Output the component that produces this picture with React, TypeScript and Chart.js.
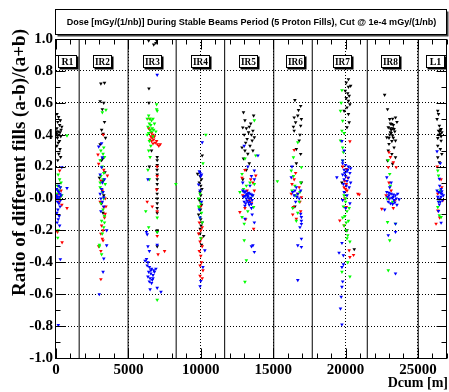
import React, { useEffect, useRef } from "react";
import { Chart, registerables } from "chart.js";
Chart.register(...registerables);

const X_MIN = 0;
const X_MAX = 27000;
const Y_MIN = -1;
const Y_MAX = 1;
const xTickValues = [0, 5000, 10000, 15000, 20000, 25000];
const yTickValues = [-1, -0.8, -0.6, -0.4, -0.2, 0, 0.2, 0.4, 0.6, 0.8, 1];

const titleText = "Dose [mGy/(1/nb)] During Stable Beams Period (5 Proton Fills), Cut @ 1e-4 mGy/(1/nb)";
const xTitle = "Dcum [m]";
const yTitle = "Ratio of different fills (a-b)/(a+b)";

const regionBounds = [1600, 4980, 8300, 11650, 15040, 17700, 21500, 25020];
const regionNames = ["R1", "IR2", "IR3", "IR4", "IR5", "IR6", "IR7", "IR8", "L1"];
const regionLabelX = [790, 3210, 6620, 9930, 13240, 16490, 19730, 23070, 26170];
const REGION_LABEL_Y = 0.86;

type P = [number, number];

const blackPts: P[] = [
  // R1
  [70, 0.53], [180, 0.51], [300, 0.49], [120, 0.48], [250, 0.46], [60, 0.44], [350, 0.43], [20, 0.42], [160, 0.42], [280, 0.415],
  [40, 0.405], [200, 0.4], [330, 0.39], [100, 0.38], [240, 0.36], [150, 0.35], [60, 0.33], [280, 0.31], [190, 0.28], [320, 0.26],
  [120, 0.24], [400, 0.45], [10, 0.41], [90, 0.395],
  // IR2
  [3100, 0.72], [3350, 0.725], [3050, 0.61], [3300, 0.6], [3200, 0.56], [3350, 0.48], [3150, 0.43], [3250, 0.405], [3420, 0.38],
  [3050, 0.34], [3220, 0.25], [3150, 0.24], [3380, 0.165], [3000, 0.13], [3250, 0.11], [3150, 0.06], [3300, 0.02], [3150, -0.03], [3250, -0.09],
  // IR3
  [6400, 0.99], [6900, 0.975], [6950, 0.99], [6750, 0.965], [6420, 0.69], [6420, 0.6], [6990, 0.26], [6990, 0.24], [6990, 0.21],
  [6980, 0.18], [6990, 0.15], [6990, 0.12], [6990, 0.09], [6990, 0.06], [6985, 0.03], [6990, 0.0], [6990, -0.03], [6990, -0.06],
  [6990, -0.09], [6600, 0.3], [6450, 0.2], [6990, -0.2], [6990, -0.3], [6990, -0.21],
  // IR4
  [10100, 0.27], [9780, 0.155], [9950, 0.14], [10050, 0.12], [9900, 0.1], [10000, 0.08], [10080, 0.06], [9950, 0.04], [10000, 0.02],
  [9900, -0.01], [10050, -0.04], [9980, -0.07], [9850, -0.1], [10000, -0.13], [10100, -0.15], [9950, -0.22], [10050, -0.29], [10020, -0.17],
  [9960, -0.19], [10200, -0.235],
  // IR5
  [12950, 0.54], [13650, 0.52], [13050, 0.49], [13450, 0.47], [12900, 0.445], [13600, 0.425], [13300, 0.415], [13000, 0.4], [13200, 0.373],
  [13550, 0.363], [13400, 0.33], [12850, 0.32], [13050, 0.3], [13700, 0.383], [13150, 0.44], [13350, 0.45], [13500, 0.4], [13100, 0.35],
  [13600, 0.3], [13250, 0.28], [12950, 0.25], [13350, 0.22], [13150, 0.18], [12900, 0.12],
  // IR6
  [16500, 0.617], [16900, 0.58], [16750, 0.554], [16450, 0.508], [16950, 0.498], [16550, 0.477], [16900, 0.456], [16450, 0.425],
  [16800, 0.363], [16600, 0.31], [16900, 0.279], [16400, 0.45], [16700, 0.52], [16850, 0.4], [16600, 0.22], [16950, 0.1], [16500, -0.05],
  // IR7
  [20200, 0.748], [20050, 0.727], [20200, 0.7], [20350, 0.706], [19980, 0.675], [20250, 0.644], [20050, 0.629], [20200, 0.6125],
  [20100, 0.571], [20200, 0.529], [20250, 0.477], [20100, 0.446], [19900, 0.55], [20300, 0.59], [20150, 0.66], [20600, -0.318],
  [19750, 0.1], [20100, -0.2],
  // IR8
  [22900, 0.56], [23050, 0.498], [23450, 0.508], [23200, 0.467], [22950, 0.446], [23350, 0.435], [23100, 0.415], [23250, 0.394],
  [22850, 0.383], [23450, 0.363], [23000, 0.342], [23350, 0.32], [23200, 0.279], [23450, 0.258], [22900, 0.2375], [23250, 0.217],
  [23100, 0.47], [23300, 0.46], [23150, 0.43], [23050, 0.4], [23400, 0.42], [23200, 0.36], [22950, 0.3], [23300, 0.38], [23100, 0.44],
  [23000, 0.38], [23250, 0.5], [22700, 0.65], [23550, 0.48], [23150, 0.41], [23250, 0.44],
  // L1
  [26370, 0.55], [26420, 0.529], [26320, 0.498], [26480, 0.456], [26600, 0.435], [26420, 0.425], [26650, 0.415], [26550, 0.404],
  [26370, 0.379], [26600, 0.3625], [26370, 0.331], [26550, 0.31], [26650, 0.279], [26370, 0.258], [26480, 0.227], [26500, 0.42],
  [26550, 0.43], [26450, 0.4], [26600, 0.39],
];

const redPts: P[] = [
  // R1
  [250, 0.175], [150, 0.03], [300, 0.01], [200, -0.02], [400, -0.04], [760, -0.06], [100, -0.21], [420, -0.275], [350, 0.05], [60, 0.0],
  // IR2
  [2950, 0.217], [3550, 0.144], [3100, 0.113], [3300, -0.054], [3400, -0.096], [3100, -0.221], [3200, -0.252], [2950, -0.3],
  [3100, -0.329], [3250, -0.263], [3100, -0.506], [3200, 0.05], [3400, 0.0], [3050, -0.02], [3350, -0.12], [3150, -0.17], [3300, 0.18],
  [3450, -0.05], [3250, -0.2], [3265, 0.4], [2900, 0.275],
  // IR3
  [6500, 0.43], [6600, 0.41], [6700, 0.4], [6550, 0.39], [6650, 0.38], [6750, 0.37], [6600, 0.36], [6850, 0.35], [7000, 0.34],
  [7100, 0.33], [6700, 0.345], [6500, 0.37], [6800, 0.39], [6950, 0.36], [6400, 0.44], [7200, 0.34], [6990, 0.14], [6950, 0.056],
  [6650, -0.05], [6990, -0.235], [7050, -0.35], [7500, -0.33], [6300, -0.02], [6990, -0.08], [6990, 0.2], [6450, 0.5],
  // IR4
  [9900, -0.15], [10100, -0.18], [10000, -0.2], [9850, -0.22], [10050, -0.25], [9950, -0.27], [10100, -0.3], [9900, -0.33],
  [10000, -0.36], [10050, -0.4], [9950, -0.42], [10150, -0.45], [9950, -0.485], [10100, -0.5], [10000, -0.05],
  // IR5
  [13050, 0.179], [13800, 0.144], [12700, -0.085], [13650, -0.19], [13050, -0.06], [13350, -0.0125], [13600, 0.1], [13200, 0.05],
  [12900, 0.02], [13500, -0.03], [13100, -0.13], [13700, 0.05], [13450, 0.12], [12850, 0.13],
  // IR6
  [16450, 0.304], [16300, 0.09], [16800, 0.071], [16950, 0.008], [16400, -0.054], [16600, -0.127], [16350, -0.1], [16850, -0.02],
  [16700, 0.03], [16450, 0.12], [16900, -0.08], [16550, 0.16], [16250, 0.03],
  // IR7
  [20300, 0.358], [20050, 0.185], [19950, 0.11], [20050, 0.09], [19900, 0.07], [20000, 0.06], [20100, 0.05], [20850, 0.029],
  [20950, 0.025], [20050, -0.054], [19600, -0.1375], [19900, -0.169], [20250, -0.325], [20300, -0.367], [20550, -0.354], [19800, 0.2],
  [20150, 0.13], [19950, 0.0],
  // IR8
  [23000, 0.29], [23300, 0.227], [22950, 0.196], [23500, 0.196], [23000, 0.1], [22500, -0.065], [23400, -0.0125], [23150, 0.05],
  [22800, 0.02], [23300, -0.06], [23100, 0.26], [22950, 0.0],
  // L1
  [26330, 0.2], [26650, 0.071], [26370, 0.03], [26720, -0.0125], [26370, -0.075], [26250, -0.158], [26500, -0.12], [26600, 0.12],
];

const greenPts: P[] = [
  // R1
  [760, 0.394], [150, 0.15], [250, 0.12], [350, 0.1], [100, 0.08], [300, 0.07], [200, 0.05], [400, 0.02], [150, -0.2], [120, -0.246],
  [250, 0.0], [60, 0.03],
  // IR2
  [3450, 0.556], [3200, 0.54], [3300, 0.32], [3100, 0.3], [3250, 0.28], [3350, 0.26], [3050, 0.24], [3200, 0.2], [3300, 0.16],
  [3100, 0.14], [3250, 0.12], [3400, 0.09], [3050, 0.07], [3200, 0.04], [3300, 0.0], [3100, -0.03], [3250, -0.07], [3350, -0.11],
  [3150, -0.14], [3300, -0.18], [3000, -0.3], [3150, -0.35], [3050, 0.1], [3200, -0.22], [3350, -0.15], [3000, -0.29],
  // IR3
  [6950, 0.59], [6950, 0.56], [6400, 0.52], [6500, 0.5], [6600, 0.49], [6700, 0.5], [6450, 0.47], [6550, 0.46], [6800, 0.47],
  [6350, 0.45], [6650, 0.44], [6500, 0.43], [6750, 0.43], [6400, 0.41], [6900, 0.42], [6600, 0.42], [6300, 0.4], [6700, 0.39],
  [6450, 0.36], [6550, 0.33], [6400, 0.3], [6500, 0.26], [6350, 0.18], [6450, 0.12], [6200, -0.08], [6990, -0.12], [6400, -0.18],
  [6990, -0.21], [6990, -0.635], [6990, 0.55], [6300, 0.5], [8280, 0.09],
  // IR4
  [10350, 0.4], [10150, 0.22], [9950, 0.03], [9850, 0.0], [10000, -0.03], [9900, -0.06], [10050, -0.09], [9950, -0.12], [10100, -0.15],
  [9850, -0.05], [10000, -0.25],
  // IR5
  [13700, 0.49], [13800, 0.27], [13050, 0.25], [12850, 0.154], [13150, 0.08], [13650, -0.054], [12850, -0.117], [13000, -0.158],
  [13000, -0.262], [13150, -0.388], [13050, -0.523], [12700, 0.04], [13400, 0.1], [13550, 0.02], [13250, -0.08], [12950, 0.06], [13700, 0.09],
  // IR6
  [16700, 0.352], [16400, 0.258], [16950, 0.196], [16250, 0.175], [16900, 0.1], [15290, 0.108], [16300, 0.05], [16550, 0.02],
  [16800, -0.02], [16350, -0.06], [16700, -0.09], [16500, 0.08], [16850, 0.04], [16400, 0.14], [16600, -0.14],
  // IR7
  [19750, 0.679], [19650, 0.55], [19800, 0.487], [19750, 0.425], [19900, 0.41], [19650, 0.363], [19850, 0.29], [19800, 0.2375],
  [19900, 0.02], [20000, -0.02], [19850, -0.05], [20100, -0.08], [19950, -0.11], [20200, -0.14], [19900, -0.17], [20050, -0.2],
  [20150, -0.23], [20300, -0.27], [20150, -0.4], [19750, -0.46], [20300, -0.49], [20000, 0.0], [19800, -0.12], [20250, -0.06],
  [20100, -0.25], [19700, 0.6], [19800, 0.32], [20050, -0.15],
  // IR8
  [22950, 0.24], [23050, 0.154], [22900, -0.148], [23050, -0.2625], [22950, -0.45], [23450, -0.158], [23100, 0.08], [22850, 0.0], [23250, -0.02],
  // L1
  [26370, 0.175], [26420, 0.144], [26370, -0.054], [26480, -0.106], [26600, -0.117], [26550, 0.05], [26450, -0.02],
];

const bluePts: P[] = [
  // R1
  [760, 0.065], [400, 0.196], [300, -0.381], [160, -0.794], [50, 0.06], [120, 0.05], [200, 0.04], [280, 0.03], [350, 0.02], [80, 0.01],
  [160, 0.0], [240, 0.01], [320, -0.01], [40, 0.02], [100, -0.02], [200, -0.03], [280, -0.05], [130, -0.07], [60, -0.09], [220, -0.11],
  [150, -0.13], [80, -0.15], [250, -0.17], [300, 0.07], [0, 0.0], [180, 0.08],
  // IR2
  [3150, 0.346], [2950, 0.325], [3200, 0.258], [3150, 0.196], [3050, 0.029], [3300, 0.008], [3150, 0.06], [3250, 0.04], [3100, 0.0],
  [3200, -0.02], [3300, -0.05], [3100, -0.08], [3200, 0.1], [3500, -0.2], [3500, -0.294], [3300, -0.377], [3250, -0.46], [2990, -0.6],
  [3050, 0.15], [3350, 0.12],
  // IR3
  [6990, 0.775], [6350, 0.12], [6300, -0.225], [6350, -0.3], [6450, -0.33], [6990, -0.29], [6350, -0.4], [6300, -0.42], [6450, -0.43],
  [6600, -0.44], [6750, -0.45], [6400, -0.46], [6550, -0.47], [6700, -0.48], [6350, -0.49], [6500, -0.5], [6650, -0.51], [6450, -0.52],
  [6600, -0.53], [6550, -0.45], [6700, -0.5], [6990, -0.56], [7250, -0.585], [6500, -0.57], [6250, -0.38], [6150, -0.39], [6800, -0.46],
  [6900, -0.44], [6250, -0.21],
  // IR4
  [10100, 0.352], [9900, 0.17], [9950, 0.16], [10050, 0.15], [10000, 0.14], [9850, 0.088], [9950, 0.05], [10050, -0.02], [9900, -0.07],
  [10150, -0.43], [10000, -0.517], [9950, -0.55], [10280, -0.325], [9950, -0.12],
  // IR5
  [12900, 0.05], [13000, 0.04], [13100, 0.045], [13200, 0.03], [13300, 0.035], [13400, 0.03], [13500, 0.025], [13600, 0.02],
  [12950, 0.01], [13050, 0.015], [13150, 0.0], [13250, 0.01], [13350, 0.0], [13450, 0.005], [13550, -0.01], [13000, -0.02],
  [13100, -0.03], [13200, -0.015], [13300, -0.025], [13400, -0.02], [13500, -0.035], [13250, 0.02], [13150, 0.025], [13350, -0.04],
  [13050, -0.045], [13950, 0.27], [13000, 0.33], [13700, 0.175], [13500, 0.14], [13700, 0.12], [13400, 0.08], [13550, -0.1],
  [13050, -0.127], [13600, -0.294], [13700, -0.335], [13500, -0.3], [13250, 0.2], [12900, 0.1], [13500, -0.06], [13700, -0.15],
  // IR6
  [16250, 0.133], [16600, 0.071], [16500, 0.05], [16700, 0.03], [16450, 0.02], [16800, 0.0], [16550, -0.02], [16650, 0.01],
  [16350, 0.04], [16900, -0.096], [16950, -0.117], [16950, -0.14], [16950, -0.16], [16850, -0.18], [16950, -0.252], [16700, -0.294],
  [16950, -0.304], [16700, -0.512], [16300, 0.2], [16900, 0.05],
  // IR7
  [19750, 0.36], [19900, 0.3], [19800, 0.2375], [19800, 0.22], [20000, 0.21], [20200, 0.2], [20350, 0.19], [19900, 0.18],
  [20100, 0.17], [20300, 0.16], [19800, 0.15], [20000, 0.14], [20200, 0.13], [19900, 0.12], [20100, 0.11], [20350, 0.1],
  [19850, 0.09], [20050, 0.08], [20250, 0.07], [19400, 0.133], [20150, 0.18], [19950, 0.16], [19900, 0.04], [20100, 0.02],
  [19800, -0.01], [20300, -0.03], [20000, -0.06], [19750, -0.279], [19550, -0.34], [19850, -0.356], [19750, -0.43], [19800, -0.52],
  [19750, -0.554], [19650, -0.69], [19700, -0.617], [19750, -0.79], [19850, -0.4125],
  // IR8
  [22850, 0.133], [23150, 0.1], [23050, 0.07], [22850, 0.04], [23000, 0.035], [23150, 0.03], [23300, 0.025], [23450, 0.02],
  [23600, 0.03], [22900, 0.01], [23050, 0.0], [23200, 0.005], [23350, -0.01], [23500, 0.0], [23700, -0.005], [22950, -0.02],
  [23100, -0.03], [23250, -0.035], [23400, -0.025], [23550, -0.04], [23000, 0.02], [23300, 0.01], [23450, -0.158], [23450, -0.21],
  [22950, -0.23], [23450, -0.47], [22700, -0.07],
  // L1
  [26320, 0.296], [26550, 0.221], [26480, 0.123], [26320, 0.05], [26420, 0.04], [26550, 0.035], [26650, 0.03], [26750, 0.02],
  [26370, 0.01], [26480, 0.0], [26600, 0.01], [26700, -0.01], [26420, -0.02], [26550, -0.02], [26650, 0.045], [26480, -0.0375],
  [26420, -0.079], [26600, -0.152], [26500, 0.08], [26600, 0.06],
];

const SERIF = "'Liberation Serif', 'DejaVu Serif', serif";
const SANS = "'Liberation Sans', Arial, sans-serif";

const decorPlugin = {
  id: "rootDecor",
  beforeDatasetsDraw(chart: any) {
    const { ctx, chartArea: a, scales } = chart;
    const x = scales.x;
    ctx.save();
    ctx.strokeStyle = "#000";
    ctx.lineWidth = 1;
    regionBounds.forEach((d) => {
      const px = x.getPixelForValue(d);
      ctx.beginPath();
      ctx.moveTo(px, a.top);
      ctx.lineTo(px, a.bottom);
      ctx.stroke();
    });
    ctx.restore();
  },
  afterDraw(chart: any) {
    const { ctx, chartArea: a, scales } = chart;
    const x = scales.x;
    const y = scales.y;
    const L = Math.round(a.left) - 0.5;
    const R = Math.round(a.right) - 0.5;
    const T = Math.round(a.top) + 0.5;
    const B = Math.round(a.bottom) + 0.5;
    ctx.save();
    ctx.strokeStyle = "#000";
    ctx.lineWidth = 1;
    ctx.strokeRect(L, T, R - L, B - T);
    ctx.beginPath();
    for (let i = -10; i <= 10; i++) {
      const v = i / 10;
      const py = Math.round(y.getPixelForValue(v)) + 0.5;
      const len = i % 2 === 0 ? 10 : 5;
      ctx.moveTo(L, py); ctx.lineTo(L + len, py);
      ctx.moveTo(R, py); ctx.lineTo(R - len, py);
    }
    for (let d = 0; d <= X_MAX; d += 1000) {
      const px = Math.round(x.getPixelForValue(d)) + 0.5;
      const len = d % 5000 === 0 ? 10 : 5;
      ctx.moveTo(px, B); ctx.lineTo(px, B - len);
      ctx.moveTo(px, T); ctx.lineTo(px, T + len);
    }
    ctx.stroke();

    const ly = y.getPixelForValue(REGION_LABEL_Y);
    regionNames.forEach((name, i) => {
      const cx = x.getPixelForValue(regionLabelX[i]);
      const w = 18, h = 12;
      const bx = Math.round(cx - w / 2) + 0.5;
      const by = Math.round(ly - h / 2) + 0.5;
      ctx.fillStyle = "#000";
      ctx.fillRect(bx + 1, by + 1, w + 1, h + 1);
      ctx.fillStyle = "#fff";
      ctx.fillRect(bx, by, w, h);
      ctx.strokeRect(bx, by, w, h);
      ctx.fillStyle = "#000";
      ctx.font = `bold 10px ${SERIF}`;
      ctx.textAlign = "center";
      ctx.textBaseline = "middle";
      ctx.fillText(name, bx + w / 2, by + h / 2 + 0.5, w - 3);
    });

    const tx0 = 55.5, ty0 = 9.5, tw = 391, th = 25;
    ctx.fillStyle = "#444";
    ctx.fillRect(tx0 + 2, ty0 + 2, tw, th);
    ctx.fillStyle = "#fff";
    ctx.fillRect(tx0, ty0, tw, th);
    ctx.strokeStyle = "#000";
    ctx.strokeRect(tx0, ty0, tw, th);
    ctx.fillStyle = "#000";
    ctx.font = `bold 9px ${SANS}`;
    const mw = ctx.measureText(titleText).width;
    const fs = (9 * 370) / mw;
    ctx.font = `bold ${fs.toFixed(2)}px ${SANS}`;
    ctx.textAlign = "center";
    ctx.textBaseline = "middle";
    ctx.fillText(titleText, tx0 + tw / 2 + 0.5, ty0 + th / 2 + 0.5);

    ctx.font = `bold 14px ${SERIF}`;
    ctx.textAlign = "right";
    ctx.textBaseline = "alphabetic";
    ctx.fillText(xTitle, 448, 387);

    ctx.save();
    ctx.translate(25, 29);
    ctx.rotate(-Math.PI / 2);
    ctx.font = `bold 19px ${SERIF}`;
    ctx.textAlign = "right";
    ctx.textBaseline = "alphabetic";
    ctx.fillText(yTitle, 0, 0);
    ctx.restore();

    ctx.restore();
  },
};

function mk(label: string, pts: P[], color: string) {
  return {
    label,
    data: pts.map(([px, py]) => ({ x: px, y: py })),
    backgroundColor: color,
    borderColor: color,
    borderWidth: 0,
    pointStyle: "triangle",
    rotation: 180,
    pointRadius: 2.1,
    pointHoverRadius: 2.1,
  };
}

export default function App() {
  const ref = useRef<HTMLCanvasElement | null>(null);
  useEffect(() => {
    document.body.style.margin = "0";
    const canvas = ref.current;
    if (!canvas) return;
    const transparent = "rgba(0,0,0,0)";
    const chart = new Chart(canvas, {
      type: "scatter",
      data: {
        datasets: [
          mk("blue", bluePts, "#0000ff"),
          mk("green", greenPts, "#00ff00"),
          mk("red", redPts, "#ff0000"),
          mk("black", blackPts, "#000000"),
        ] as any,
      },
      options: {
        animation: false,
        responsive: false,
        devicePixelRatio: 1,
        events: [],
        layout: { padding: { top: 39, right: 1.5, left: 0, bottom: 0 } },
        plugins: { legend: { display: false }, tooltip: { enabled: false }, title: { display: false } },
        scales: {
          x: {
            type: "linear",
            min: X_MIN,
            max: X_MAX,
            afterFit: (s: any) => { s.height = 34; },
            afterBuildTicks: (s: any) => { s.ticks = xTickValues.map((v) => ({ value: v })); },
            ticks: {
              autoSkip: false,
              maxRotation: 0,
              padding: 3,
              color: "#000",
              font: { family: SERIF, size: 15, weight: "bold" },
              callback: (v: any) => String(v),
            },
            grid: {
              drawTicks: false,
              lineWidth: 1,
              color: (c: any) => (c.tick && c.tick.value > 1 && c.tick.value < X_MAX ? "#000" : transparent),
            },
            border: { display: false, dash: [1, 2] },
          },
          y: {
            type: "linear",
            min: Y_MIN,
            max: Y_MAX,
            afterFit: (s: any) => { s.width = 56; },
            afterBuildTicks: (s: any) => { s.ticks = yTickValues.map((v) => ({ value: v })); },
            ticks: {
              autoSkip: false,
              padding: 3,
              color: "#000",
              font: { family: SERIF, size: 15, weight: "bold" },
              callback: (v: any) => {
                const r = Math.round(Number(v) * 10) / 10;
                return Math.abs(r) < 1e-9 ? "-0.0" : r.toFixed(1);
              },
            },
            grid: {
              drawTicks: false,
              lineWidth: 1,
              color: (c: any) => (c.tick && Math.abs(c.tick.value) < 0.99 ? "#000" : transparent),
            },
            border: { display: false, dash: [1, 2] },
          },
        },
      },
      plugins: [decorPlugin],
    } as any);
    return () => chart.destroy();
  }, []);
  return (
    <div style={{ width: 449, height: 392 }}>
      <canvas ref={ref} width={449} height={392} style={{ display: "block" }} />
    </div>
  );
}
